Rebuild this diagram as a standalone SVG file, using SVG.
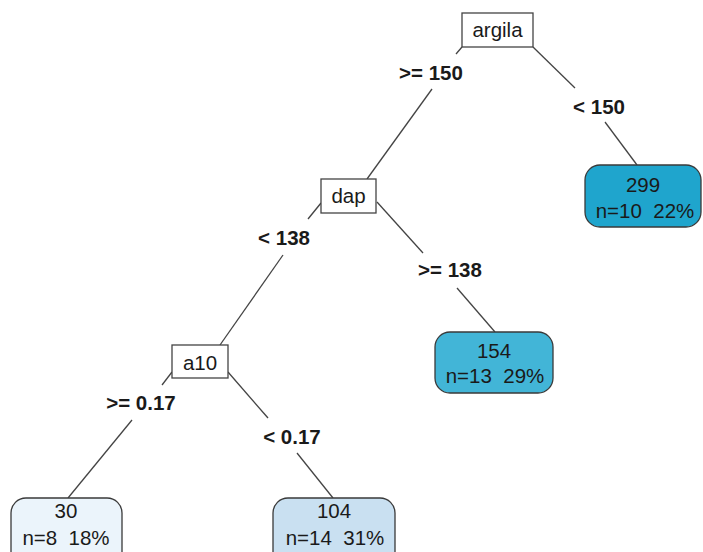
<svg xmlns="http://www.w3.org/2000/svg" width="703" height="552" viewBox="0 0 703 552">
<style>
text{font-family:"Liberation Sans",Arial,sans-serif;font-size:20.5px;fill:#1a1a1a;text-anchor:middle;white-space:pre}
.split rect{fill:#fff;stroke:#444;stroke-width:1.3}
.leaf rect{stroke:#3a3a3a;stroke-width:1.3}
.el{font-weight:bold}
#edges line{stroke:#444;stroke-width:1.3}
</style>
<rect width="703" height="552" fill="#fff"/>
<g id="edges">
<line x1="462" y1="47" x2="456" y2="54"/>
<line x1="432" y1="89" x2="367" y2="179"/>
<line x1="533" y1="47" x2="575" y2="88"/>
<line x1="605" y1="122" x2="637" y2="165"/>
<line x1="321" y1="203" x2="308" y2="219"/>
<line x1="283" y1="255" x2="220" y2="345"/>
<line x1="377" y1="202" x2="423" y2="253"/>
<line x1="457" y1="288" x2="495" y2="332"/>
<line x1="172" y1="372" x2="162" y2="385"/>
<line x1="132" y1="420" x2="68" y2="498"/>
<line x1="228" y1="372" x2="268" y2="418"/>
<line x1="297" y1="453" x2="333" y2="498"/>
</g>
<g id="edge-labels">
<text class="el" x="431" y="80">&gt;= 150</text>
<text class="el" x="599" y="114">&lt; 150</text>
<text class="el" x="284" y="245">&lt; 138</text>
<text class="el" x="450" y="277">&gt;= 138</text>
<text class="el" x="141" y="410">&gt;= 0.17</text>
<text class="el" x="292" y="444">&lt; 0.17</text>
</g>
<g id="n-argila" class="split"><rect x="462" y="13" width="71" height="34"/><text x="497.5" y="37">argila</text></g>
<g id="n-dap" class="split"><rect x="321" y="179" width="55" height="34"/><text x="348.5" y="203">dap</text></g>
<g id="n-a10" class="split"><rect x="172" y="345" width="56" height="33"/><text x="200" y="370">a10</text></g>
<g id="leaf-299" class="leaf"><rect x="585" y="165" width="116" height="62" rx="15" fill="#1fa5cd"/><text x="643" y="192">299</text><text x="645" y="218" xml:space="preserve">n=10  22%</text></g>
<g id="leaf-154" class="leaf"><rect x="435" y="332" width="118" height="61" rx="15" fill="#42b5d7"/><text x="494" y="358">154</text><text x="495" y="383" xml:space="preserve">n=13  29%</text></g>
<g id="leaf-30" class="leaf"><rect x="11" y="498" width="111" height="70" rx="15" fill="#ebf4fb"/><text x="66" y="518">30</text><text x="66" y="545" xml:space="preserve">n=8  18%</text></g>
<g id="leaf-104" class="leaf"><rect x="273" y="498" width="122" height="70" rx="15" fill="#c9e0f1"/><text x="334" y="518">104</text><text x="335" y="545" xml:space="preserve">n=14  31%</text></g>
</svg>
